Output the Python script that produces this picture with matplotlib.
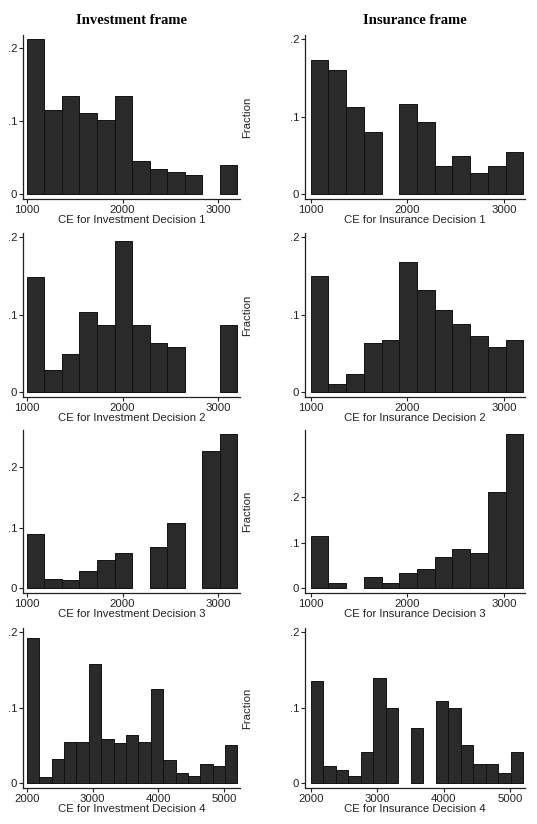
import numpy as np
import matplotlib
matplotlib.use("Agg")
import matplotlib.pyplot as plt

# ---- data (fractions per bin) ----
inv1 = [0.213, 0.115, 0.134, 0.111, 0.102, 0.134, 0.045, 0.035, 0.030, 0.027, 0.0, 0.040]
ins1 = [0.173, 0.160, 0.112, 0.080, 0.0, 0.116, 0.093, 0.036, 0.049, 0.027, 0.036, 0.054]
inv2 = [0.148, 0.028, 0.049, 0.103, 0.086, 0.195, 0.086, 0.063, 0.058, 0.0, 0.0, 0.086]
ins2 = [0.150, 0.010, 0.024, 0.063, 0.067, 0.168, 0.132, 0.106, 0.088, 0.072, 0.058, 0.067]
inv3 = [0.089, 0.015, 0.014, 0.028, 0.046, 0.059, 0.0, 0.068, 0.107, 0.0, 0.227, 0.255]
ins3 = [0.114, 0.011, 0.0, 0.024, 0.011, 0.033, 0.042, 0.068, 0.086, 0.077, 0.211, 0.338]
inv4 = [0.192, 0.009, 0.032, 0.054, 0.054, 0.158, 0.059, 0.053, 0.064, 0.054, 0.125,
        0.031, 0.014, 0.010, 0.026, 0.023, 0.050]
ins4 = [0.135, 0.023, 0.018, 0.010, 0.041, 0.139, 0.099, 0.0, 0.073, 0.0, 0.109,
        0.099, 0.050, 0.026, 0.026, 0.013, 0.041]

range_d123 = (1000, 3200)
range_d4 = (2000, 5200)
xticks_d123 = [1000, 2000, 3000]
xticks_d4 = [2000, 3000, 4000, 5000]
yticks = [0, 0.1, 0.2]
ytick_labels = ["0", ".1", ".2"]

col_titles = ["Investment frame", "Insurance frame"]
xlabels = [["CE for Investment Decision 1", "CE for Insurance Decision 1"],
           ["CE for Investment Decision 2", "CE for Insurance Decision 2"],
           ["CE for Investment Decision 3", "CE for Insurance Decision 3"],
           ["CE for Investment Decision 4", "CE for Insurance Decision 4"]]
ylabel_text = "Fraction"

panels = [[inv1, ins1], [inv2, ins2], [inv3, ins3], [inv4, ins4]]
ranges = [range_d123, range_d123, range_d123, range_d4]
xtick_sets = [xticks_d123, xticks_d123, xticks_d123, xticks_d4]

# ---- layout (pixels) ----
W, H = 537, 824
fig = plt.figure(figsize=(W / 100, H / 100), dpi=100)
sans = ["Liberation Sans", "DejaVu Sans"]
serif = ["Liberation Serif", "DejaVu Serif"]

col_px = [(23, 240), (305, 525)]
col_margin = [(0.018, 0.012), (0.027, 0.008)]
row_px = [(35, 199), (233, 397), (430, 593), (628, 788)]

bar_face = "#2a2a2a"
bar_edge = "#111111"
fs = 8.2

for r in range(4):
    top, bot = row_px[r]
    lo, hi = ranges[r]
    for c in range(2):
        x0, x1 = col_px[c]
        ax = fig.add_axes([x0 / W, 1 - bot / H, (x1 - x0) / W, (bot - top) / H])
        vals = np.array(panels[r][c])
        edges = np.linspace(lo, hi, len(vals) + 1)
        nz = vals > 0
        ax.bar(edges[:-1][nz], vals[nz], width=np.diff(edges)[nz], align="edge",
               color=bar_face, edgecolor=bar_edge, linewidth=0.7)
        span = hi - lo
        ml, mr = col_margin[c]
        ax.set_xlim(lo - ml * span, hi + mr * span)
        ymax = max(0.2, vals.max()) * 1.025
        ax.set_ylim(-0.03 * ymax, ymax)
        ax.set_xticks(xtick_sets[r])
        ax.set_xticklabels([str(t) for t in xtick_sets[r]], family=sans, fontsize=fs)
        ax.set_yticks(yticks)
        ax.set_yticklabels(ytick_labels, family=sans, fontsize=fs)
        for s in ["top", "right"]:
            ax.spines[s].set_visible(False)
        for s in ["left", "bottom"]:
            ax.spines[s].set_linewidth(0.9)
            ax.spines[s].set_color("#222222")
        ax.tick_params(axis="both", direction="out", length=3, width=0.8,
                       colors="#222222", pad=1.2)
        ax.set_xlabel(xlabels[r][c], family=sans, fontsize=fs, labelpad=0.0,
                      color="#222222")
        if r == 0:
            ax.set_title(col_titles[c], family=serif, fontweight="bold",
                         fontsize=10.5, pad=8)
    # "Fraction" label between columns
    fig.text(247 / W, 1 - (top + bot) / 2 / H, ylabel_text, rotation=90,
             ha="center", va="center", family=sans, fontsize=fs, color="#222222")

fig.savefig("out.png", dpi=100)
